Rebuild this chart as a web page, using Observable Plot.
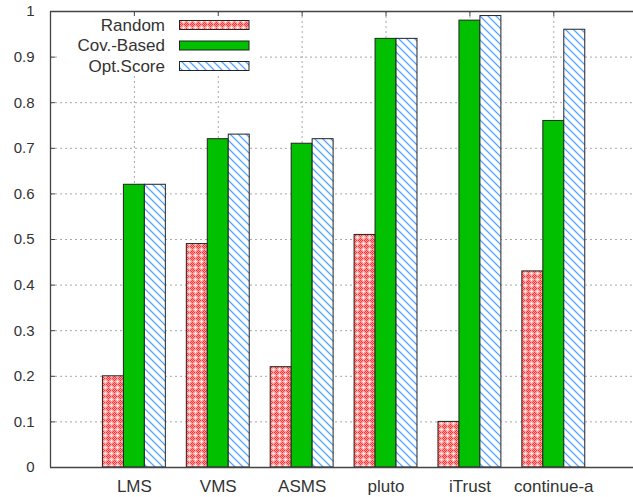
<!DOCTYPE html>
<html>
<head>
<meta charset="utf-8">
<script src="https://cdn.jsdelivr.net/npm/d3@7"></script>
<script src="https://cdn.jsdelivr.net/npm/@observablehq/plot@0.6"></script>
<style>
  html, body { margin: 0; padding: 0; background: white; }
  #wrap { position: relative; width: 633px; height: 497px; overflow: hidden; }
  #legend { position: absolute; left: 0; top: 0; pointer-events: none; }
  #legend text { font-family: 'Liberation Sans', Arial, sans-serif; font-size: 17px; fill: #333; }
</style>
</head>
<body>
<div id="wrap">
  <svg width="0" height="0" style="position:absolute">
    <defs>
      <pattern id="pRed" width="6" height="6" patternUnits="userSpaceOnUse">
        <rect width="6" height="6" fill="#ffa0a0"/>
        <path d="M0,0h1v1h-1zM2,0h1v1h-1zM4,0h1v1h-1zM0,2h1v1h-1zM0,4h1v1h-1zM1,1h1v1h-1zM5,5h1v1h-1zM5,1h1v1h-1zM1,5h1v1h-1z" fill="#ff3535"/>
        <path d="M3,2h1v1h-1zM2,3h1v1h-1zM3,3h1v1h-1zM4,3h1v1h-1zM3,4h1v1h-1z" fill="#ffe4e4"/>
      </pattern>
      <pattern id="pBlue" width="8" height="8" patternUnits="userSpaceOnUse">
        <rect width="8" height="8" fill="white"/>
        <path d="M-1,-1L9,9M-5,3L1,9M3,-5L9,1" stroke="#b3d9ff" stroke-width="2.2"/>
        <path d="M-1,-1L9,9M-5,3L1,9M3,-5L9,1" stroke="#3a92ff" stroke-width="0.8"/>
      </pattern>
    </defs>
  </svg>
</div>
<script>
const categories = ["LMS", "VMS", "ASMS", "pluto", "iTrust", "continue-a"];
const seriesNames = ["Random", "Cov.-Based", "Opt.Score"];
const random   = [0.20, 0.49, 0.22, 0.51, 0.10, 0.43];
const covBased = [0.62, 0.72, 0.71, 0.94, 0.98, 0.76];
const optScore = [0.62, 0.73, 0.72, 0.94, 0.99, 0.96];
const yTicks = [0, 0.1, 0.2, 0.3, 0.4, 0.5, 0.6, 0.7, 0.8, 0.9, 1];

const seriesValues = [random, covBased, optScore];
const fills = ["url(#pRed)", "#00c000", "url(#pBlue)"];
const bw = 0.25;
const font = "'Liberation Sans', Arial, sans-serif";

const rows = [];
categories.forEach((c, i) => {
  seriesValues.forEach((vals, s) => {
    rows.push({i, category: c, s, series: seriesNames[s], value: vals[i]});
  });
});
const idx = categories.map((c, i) => i);

const chart = Plot.plot({
  width: 633,
  height: 497,
  marginLeft: 50,
  marginRight: 0,
  marginTop: 11,
  marginBottom: 30,
  style: {fontFamily: font, fontSize: "15px", color: "#333", background: "white"},
  x: {type: "linear", domain: [-1, 5.95], label: null},
  y: {domain: [0, 1], label: null},
  marks: [
    Plot.ruleY(yTicks.slice(1, -1), {stroke: "#a8a8a8", strokeDasharray: "2,3", strokeWidth: 1}),
    Plot.ruleX(idx, {stroke: "#a8a8a8", strokeDasharray: "2,3", strokeWidth: 1}),
    Plot.rect(rows, {
      x1: d => d.i + (d.s - 1.5) * bw,
      x2: d => d.i + (d.s - 0.5) * bw,
      y1: d => 0,
      y2: "value",
      fill: d => fills[d.s],
      stroke: "#222",
      strokeWidth: 1
    }),
    Plot.axisY({ticks: yTicks, label: null, tickSize: 0, tickPadding: 16, tickFormat: d => String(+d.toFixed(1)), fill: "#333", fontSize: 15}),
    Plot.axisY({ticks: yTicks, label: null, tickSize: 5, dx: 5, tickFormat: () => "", stroke: "#444"}),
    Plot.axisX({ticks: idx, label: null, tickSize: 0, tickPadding: 12, tickFormat: i => categories[i], fill: "#333", fontSize: 17}),
    Plot.axisX({anchor: "top", ticks: idx, label: null, tickSize: 4, dy: 4, tickFormat: () => "", stroke: "#444"}),
    Plot.ruleX([-1], {stroke: "#444", strokeWidth: 1.3}),
    Plot.ruleY([0, 1], {stroke: "#444", strokeWidth: 1.3})
  ]
});
const wrap = document.getElementById("wrap");
wrap.appendChild(chart);

// Legend (key) drawn as overlay
const ns = "http://www.w3.org/2000/svg";
const leg = document.createElementNS(ns, "svg");
leg.setAttribute("id", "legend");
leg.setAttribute("width", 633);
leg.setAttribute("height", 497);
wrap.appendChild(leg);
const bg = document.createElementNS(ns, "rect");
bg.setAttribute("x", 58); bg.setAttribute("y", 16);
bg.setAttribute("width", 200); bg.setAttribute("height", 60);
bg.setAttribute("fill", "white");
leg.appendChild(bg);
const rowY = [25, 45.5, 66];
seriesNames.forEach((name, s) => {
  const t = document.createElementNS(ns, "text");
  t.setAttribute("x", 165);
  t.setAttribute("y", rowY[s]);
  t.setAttribute("text-anchor", "end");
  t.setAttribute("dominant-baseline", "central");
  t.textContent = name;
  leg.appendChild(t);
  const r = document.createElementNS(ns, "rect");
  r.setAttribute("x", 179.5); r.setAttribute("y", rowY[s] - 4.5);
  r.setAttribute("width", 69.5); r.setAttribute("height", 9);
  r.setAttribute("fill", fills[s]);
  r.setAttribute("stroke", "#222");
  r.setAttribute("stroke-width", 1);
  leg.appendChild(r);
});
</script>
</body>
</html>
